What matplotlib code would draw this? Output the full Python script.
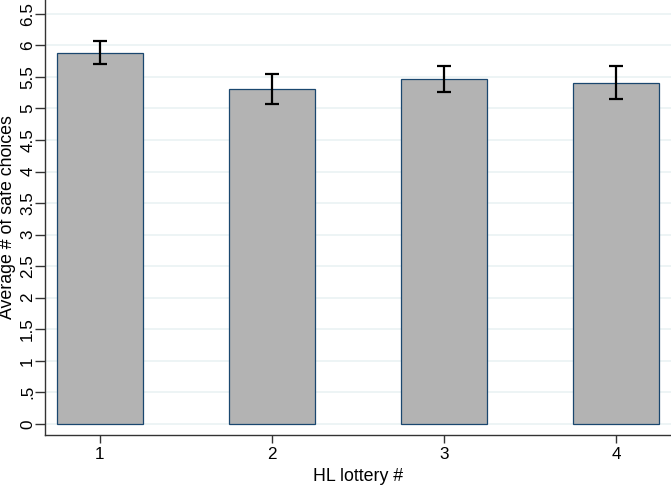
import matplotlib.pyplot as plt
import numpy as np

# Data
lotteries = [1, 2, 3, 4]
mean_safe = [5.885, 5.305, 5.46, 5.41]
err_low = [5.70, 5.065, 5.26, 5.155]
err_high = [6.065, 5.55, 5.675, 5.675]
y_ticks = [0, 0.5, 1, 1.5, 2, 2.5, 3, 3.5, 4, 4.5, 5, 5.5, 6, 6.5]
y_tick_labels = ["0", ".5", "1", "1.5", "2", "2.5", "3", "3.5", "4", "4.5", "5", "5.5", "6", "6.5"]


def main() -> None:
    plt.rcParams["font.family"] = ["Liberation Sans", "DejaVu Sans"]

    fig = plt.figure(figsize=(6.71, 4.87), dpi=100)
    ax = fig.add_axes([0.067, 0.107, 0.933, 0.893])

    means = np.array(mean_safe)
    yerr = np.vstack([means - np.array(err_low), np.array(err_high) - means])

    ax.bar(
        lotteries,
        means,
        width=0.5,
        color="#b3b3b3",
        edgecolor="#1a476f",
        linewidth=0.9,
        zorder=2,
    )
    ax.errorbar(
        lotteries,
        means,
        yerr=yerr,
        fmt="none",
        ecolor="black",
        elinewidth=1.6,
        capsize=5,
        capthick=1.6,
        zorder=3,
    )

    ax.set_xlim(0.68, 4.32)
    ax.set_ylim(-0.175, 6.72)
    ax.set_xticks(lotteries)
    ax.set_yticks(y_ticks)
    ax.set_yticklabels(y_tick_labels, rotation=90, va="center")
    ax.yaxis.grid(True, color="#eaf2f3", linewidth=1.2, zorder=0)
    ax.set_axisbelow(True)

    for side in ("top", "right"):
        ax.spines[side].set_visible(False)
    for side in ("left", "bottom"):
        ax.spines[side].set_color("#333333")
        ax.spines[side].set_linewidth(1.0)

    ax.tick_params(axis="both", labelsize=12.3, color="#333333", width=1.0)
    ax.tick_params(axis="y", length=7, pad=0)
    ax.tick_params(axis="x", length=6, pad=3)

    ax.set_xlabel("HL lottery #", fontsize=12.8, labelpad=4)
    ax.set_ylabel("Average # of safe choices", fontsize=12.8)
    ax.yaxis.set_label_coords(-0.046, 0.5)

    fig.savefig("out.png", dpi=100)


if __name__ == "__main__":
    main()
